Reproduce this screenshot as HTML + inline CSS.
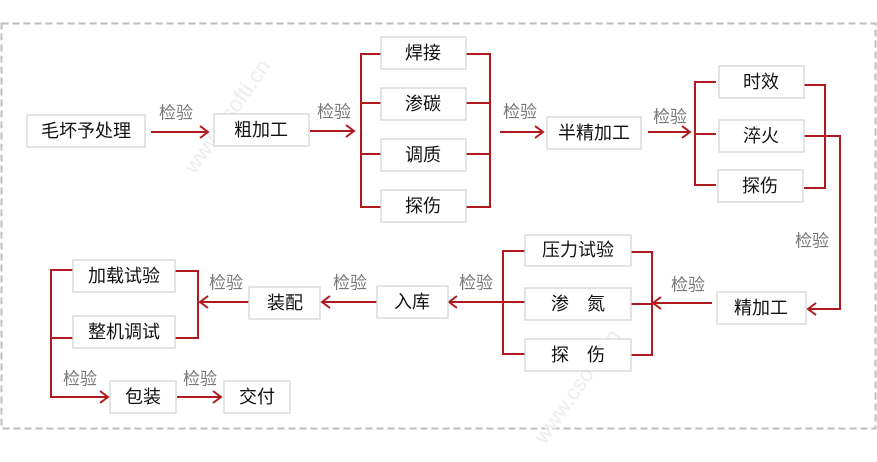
<!DOCTYPE html>
<html><head><meta charset="utf-8"><style>
html,body{margin:0;padding:0;background:#fff;}
svg{display:block;}
.b{fill:#fff;stroke:#d6d6d6;stroke-width:1.3;}
.t{font-family:"Liberation Sans","Noto Sans CJK SC",sans-serif;font-size:18px;fill:#111;text-anchor:middle;dominant-baseline:central;}
.g{font-family:"Liberation Sans","Noto Sans CJK SC",sans-serif;font-size:17px;fill:#777;text-anchor:middle;dominant-baseline:central;}
.l{fill:none;stroke:#b01a1f;stroke-width:2;}
.w{font-family:"Liberation Sans",sans-serif;font-size:22px;fill:#eee;}
</style></head><body>
<svg width="877" height="462" viewBox="0 0 877 462" xmlns="http://www.w3.org/2000/svg">
<rect x="1.5" y="23.5" width="874" height="405" fill="none" stroke="#bdbdbd" stroke-width="2" stroke-dasharray="7,4"/>
<text class="w" transform="translate(195,175) rotate(-55)">www.csofti.cn</text>
<text class="w" transform="translate(545,445) rotate(-55)">www.csofti.cn</text>

<!-- lines -->
<g class="l">
<path d="M151 132H208M200 126L208 132L200 138"/>
<path d="M310 131H354M346 125L354 131L346 137"/>
<path d="M381 54H361V207H381M361 103H381M361 154H381"/>
<path d="M466 54H490V207H466M466 103H490M466 154H490"/>
<path d="M500 132H543M535 126L543 132L535 138"/>
<path d="M648 132H690M682 126L690 132L682 138"/>
<path d="M716 82H695V185H716M695 134H716"/>
<path d="M804 85H825V188H804"/>
<path d="M804 136H840V309H808M816 303L808 309L816 315"/>
<path d="M712 303H653M661 297L653 303L661 309"/>
<path d="M631 252H652V355H631M631 304H652"/>
<path d="M525 251H503V354H525M503 302H525"/>
<path d="M503 302H449M457 296L449 302L457 308"/>
<path d="M377 302H322M330 296L322 302L330 308"/>
<path d="M249 302H200M208 296L200 302L208 308"/>
<path d="M175 271H198V338H175"/>
<path d="M73 270H51V397H108M100 391L108 397L100 403M51 338H73"/>
<path d="M177 397H221M213 391L221 397L213 403"/>
</g>

<!-- boxes -->
<rect class="b" x="27" y="115" width="118" height="32"/><text class="t" x="86" y="131">毛坏予处理</text>
<rect class="b" x="214" y="114" width="95" height="32"/><text class="t" x="261" y="130">粗加工</text>
<rect class="b" x="381" y="37" width="85" height="32"/><text class="t" x="423" y="53">焊接</text>
<rect class="b" x="381" y="88" width="85" height="32"/><text class="t" x="423" y="104">渗碳</text>
<rect class="b" x="381" y="139" width="85" height="32"/><text class="t" x="423" y="155">调质</text>
<rect class="b" x="381" y="190" width="85" height="32"/><text class="t" x="423" y="206">探伤</text>
<rect class="b" x="547" y="117" width="94" height="32"/><text class="t" x="594" y="133">半精加工</text>
<rect class="b" x="719" y="66" width="85" height="32"/><text class="t" x="761" y="82">时效</text>
<rect class="b" x="719" y="120" width="85" height="32"/><text class="t" x="761" y="136">淬火</text>
<rect class="b" x="718" y="170" width="85" height="32"/><text class="t" x="760" y="186">探伤</text>
<rect class="b" x="717" y="292" width="89" height="32"/><text class="t" x="761" y="308">精加工</text>
<rect class="b" x="525" y="235" width="106" height="31"/><text class="t" x="578" y="250">压力试验</text>
<rect class="b" x="525" y="288" width="106" height="32"/><text class="t" x="578" y="304" xml:space="preserve">渗　氮</text>
<rect class="b" x="525" y="339" width="106" height="32"/><text class="t" x="578" y="355" xml:space="preserve">探　伤</text>
<rect class="b" x="377" y="286" width="71" height="32"/><text class="t" x="412" y="302">入库</text>
<rect class="b" x="249" y="287" width="71" height="32"/><text class="t" x="285" y="303">装配</text>
<rect class="b" x="73" y="260" width="102" height="32"/><text class="t" x="124" y="276">加载试验</text>
<rect class="b" x="73" y="316" width="102" height="32"/><text class="t" x="124" y="332">整机调试</text>
<rect class="b" x="110" y="381" width="66" height="32"/><text class="t" x="143" y="397">包装</text>
<rect class="b" x="224" y="381" width="66" height="32"/><text class="t" x="257" y="397">交付</text>

<!-- labels -->
<text class="g" x="176" y="113">检验</text>
<text class="g" x="334" y="112">检验</text>
<text class="g" x="520" y="112">检验</text>
<text class="g" x="670" y="117">检验</text>
<text class="g" x="812" y="241">检验</text>
<text class="g" x="688" y="285">检验</text>
<text class="g" x="476" y="283">检验</text>
<text class="g" x="350" y="283">检验</text>
<text class="g" x="226" y="283">检验</text>
<text class="g" x="80" y="379">检验</text>
<text class="g" x="200" y="379">检验</text>
</svg>
</body></html>
